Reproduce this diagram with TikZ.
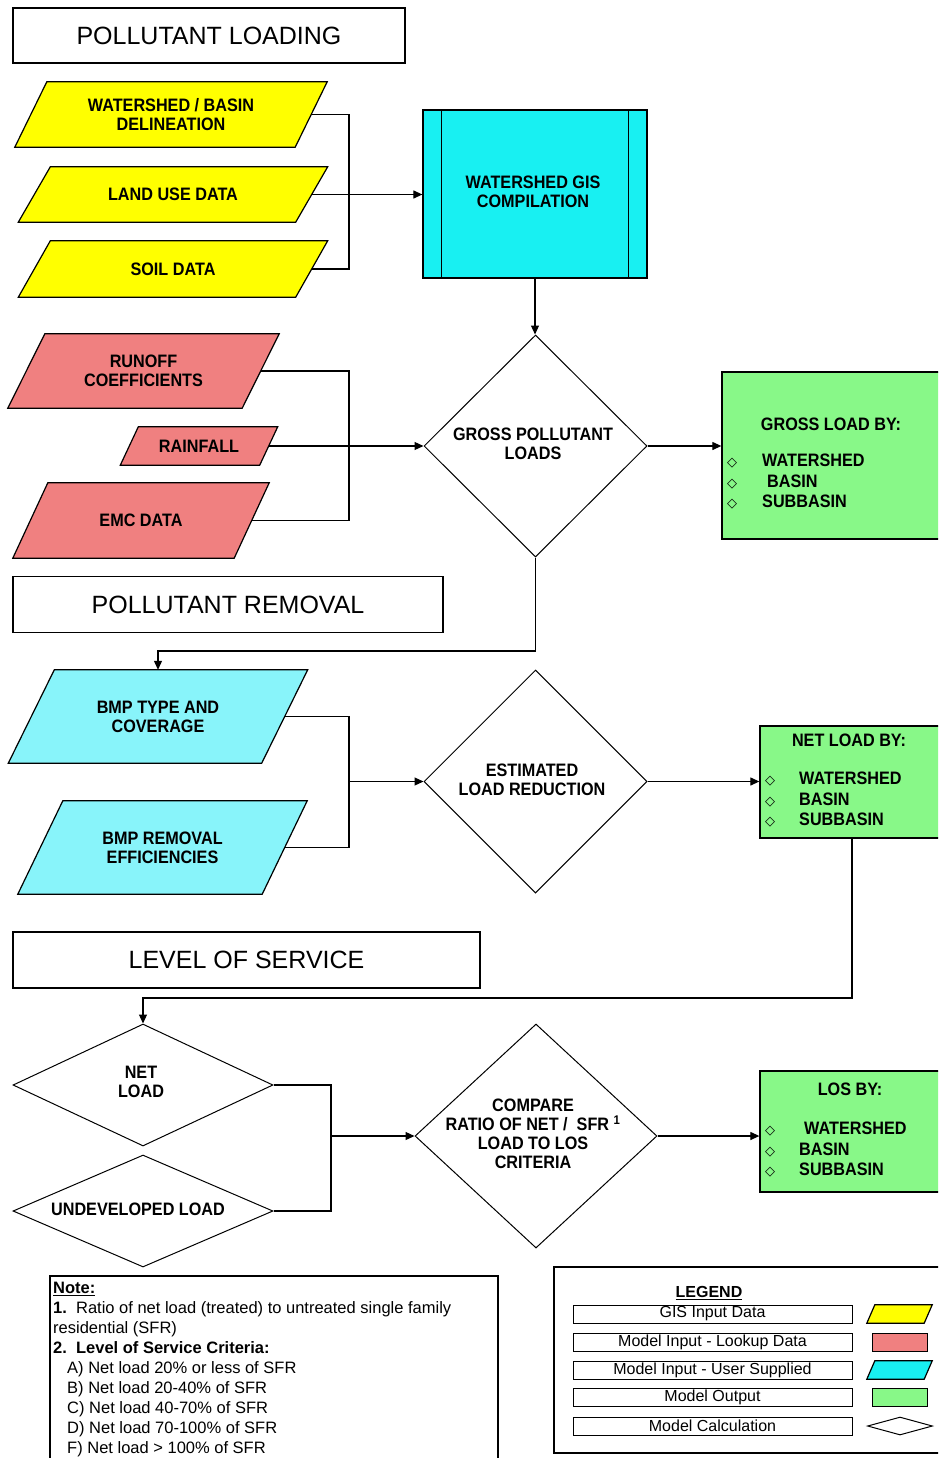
\documentclass[tikz,border=0pt]{standalone}
\usepackage{fontspec}
\setmainfont{Liberation Sans}
\newfontfamily\lblfamily[FakeStretch=0.9]{Liberation Sans}
\newfontfamily\symfamily{DejaVu Sans}
\usetikzlibrary{shapes.geometric,arrows.meta,calc,backgrounds}

\definecolor{gisyellow}{HTML}{FFFF00}
\definecolor{lookupred}{HTML}{F08080}
\definecolor{giscyan}{HTML}{18F0F2}
\definecolor{usercyan}{HTML}{88F4FA}
\definecolor{outgreen}{HTML}{88F888}

% fonts for the different kinds of text
\newcommand\lbl{\lblfamily\bfseries\fontsize{18}{19}\selectfont}
\newcommand\lstf{\lblfamily\bfseries\fontsize{18}{20.5}\selectfont}
\newcommand\hdr{\fontsize{25}{28}\selectfont}
\newcommand\legf{\fontsize{16}{16}\selectfont}
\newcommand\notef{\fontsize{16.5}{20}\selectfont}
\newcommand\bul{{\symfamily\bfseries\fontsize{13}{13}\selectfont ◇}}
\newcommand\blt[2]{\makebox[#1pt][l]{\bul}#2}

\tikzset{
  line/.style={line width=1.2pt, draw=black},
  flow/.style={line, -{Triangle[length=9pt,width=8pt]}},
  pgtext/.style={rectangle, inner sep=0pt, align=center, font=\lbl},
  header/.style={rectangle, draw, line width=1.3pt, font=\hdr, inner sep=0pt},
  calcshape/.style={diamond, draw, line width=1pt, inner sep=0pt},
  outbox/.style={rectangle, draw, line width=1.3pt, fill=outgreen, inner sep=0pt},
  listtext/.style={rectangle, inner sep=0pt, align=left, anchor=west, font=\lstf},
  legrow/.style={rectangle, draw, line width=1pt, inner sep=0pt,
    minimum width=279pt, minimum height=18pt, font=\legf},
}

% parallelogram data box: name, fill, centre, width at mid height, height, slant, text
\newcommand\pgram[7]{%
  \node[pgtext, minimum width=#4pt, minimum height=#5pt] (#1) at (#3) {#7};
  \begin{pgfonlayer}{background}
    \draw[line, fill=#2] ($(#1.north west)+(#6/2,0)$) -- ($(#1.north east)+(#6/2,0)$)
      -- ($(#1.south east)-(#6/2,0)$) -- ($(#1.south west)-(#6/2,0)$) -- cycle;
  \end{pgfonlayer}}

\begin{document}
\begin{tikzpicture}[x=1pt, y=-1pt]
\useasboundingbox (0,0) rectangle (938,1458);
\clip (0,0) rectangle (938,1458);

% ---------- section headers ----------
\node[header, minimum width=392pt, minimum height=55pt] (h1) at (209,35.5) {POLLUTANT LOADING};
\node[header, minimum width=430pt, minimum height=56pt] (h2) at (228,604.5) {POLLUTANT REMOVAL};
\node[header, minimum width=467pt, minimum height=56pt] (h3) at (246.5,960) {LEVEL OF SERVICE};

% ---------- pollutant loading ----------
\pgram{ws}{gisyellow}{171,114.5}{280}{65}{32}{WATERSHED / BASIN\\DELINEATION}
\pgram{lu}{gisyellow}{173,194.5}{277}{55}{32}{LAND USE DATA}
\pgram{soil}{gisyellow}{173,269}{277}{56}{32}{SOIL DATA}

\node[rectangle, draw, line width=1.3pt, fill=giscyan, minimum width=224pt, minimum height=168pt] (gis) at (535,194) {};
\draw[line] ($(gis.north west)+(19,0)$) -- ($(gis.south west)+(19,0)$);
\draw[line] ($(gis.north east)-(19,0)$) -- ($(gis.south east)-(19,0)$);
\node[pgtext] (gis-t) at (533,192) {WATERSHED GIS\\COMPILATION};

\pgram{ro}{lookupred}{143.5,371}{234}{74}{37}{RUNOFF\\COEFFICIENTS}
\pgram{rain}{lookupred}{199,446}{139}{38}{18}{RAINFALL}
\pgram{emc}{lookupred}{141,520.5}{221}{75}{35}{EMC DATA}

\node[calcshape, minimum width=223pt, minimum height=222pt] (gpl) at (535.5,446) {};
\node[pgtext] (gpl-t) at (533,444) {GROSS POLLUTANT\\LOADS};

\node[outbox, minimum width=230pt, minimum height=167pt] (gl) at (837,455.5) {};
\node[pgtext] (gl-title) at (831,424) {GROSS LOAD BY:};
\node[listtext] (gl-list) at (727,482) {\blt{35}{WATERSHED}\\\blt{35}{\hspace{5pt}BASIN}\\\blt{35}{SUBBASIN}};

% ---------- pollutant removal ----------
\pgram{bmpt}{usercyan}{158,716.5}{253}{93}{46}{BMP TYPE AND\\COVERAGE}
\pgram{bmpr}{usercyan}{162.5,847.5}{244}{93}{45}{BMP REMOVAL\\EFFICIENCIES}

\node[calcshape, minimum width=223pt, minimum height=223pt] (elr) at (535.5,781.5) {};
\node[pgtext] (elr-t) at (532,780) {ESTIMATED\\LOAD REDUCTION};

\node[outbox, minimum width=190pt, minimum height=112pt] (nl) at (855,782) {};
\node[pgtext] (nl-title) at (849,740) {NET LOAD BY:};
\node[listtext] (nl-list) at (765,800) {\blt{34}{WATERSHED}\\\blt{34}{BASIN}\\\blt{34}{SUBBASIN}};

% ---------- level of service ----------
\node[calcshape, minimum width=260pt, minimum height=122pt] (netd) at (143,1085) {};
\node[pgtext] (netd-t) at (141,1082) {NET\\LOAD};
\node[calcshape, minimum width=260pt, minimum height=112pt] (und) at (143,1211) {};
\node[pgtext] (und-t) at (138,1209) {UNDEVELOPED LOAD};

\node[calcshape, minimum width=242pt, minimum height=224pt] (cmp) at (536,1136) {};
\node[pgtext] (cmp-t) at (533,1134) {COMPARE\\RATIO OF NET /\ \ SFR \textsuperscript{1}\\LOAD TO LOS\\CRITERIA};

\node[outbox, minimum width=190pt, minimum height=121pt] (los) at (855,1131.5) {};
\node[pgtext] (los-title) at (850,1089) {LOS BY:};
\node[listtext] (los-list) at (765,1150) {\blt{34}{\hspace{5pt}WATERSHED}\\\blt{34}{BASIN}\\\blt{34}{SUBBASIN}};

% ---------- connectors ----------
\coordinate (j1) at (349,194.5);
\draw[line] (ws.east) -| (j1);
\draw[line] (soil.east) -| (j1);
\draw[flow] (lu.east) -- (lu.east -| gis.west);
\draw[flow] (gis.south) -- (gis.south |- gpl.north);

\coordinate (j2) at (349,446);
\draw[line] (ro.east) -| (j2);
\draw[line] (emc.east) -| (j2);
\draw[flow] (rain.east) -- (gpl.west);
\draw[flow] (gpl.east) -- (gpl.east -| gl.west);

\coordinate (k1) at (535.5,651);
\draw[flow] (gpl.south) -- (k1) -| (bmpt.north);

\coordinate (j3) at (349,781.5);
\draw[line] (bmpt.east) -| (j3);
\draw[line] (bmpr.east) -| (j3);
\draw[flow] (j3) -- (elr.west);
\draw[flow] (elr.east) -- (elr.east -| nl.west);

\coordinate (k2) at (852,998);
\draw[flow] (nl.south -| k2) -- (k2) -| (netd.north);

\coordinate (j4) at (331,1136);
\draw[line] (netd.east) -| (j4);
\draw[line] (und.east) -| (j4);
\draw[flow] (j4) -- (cmp.west);
\draw[flow] (cmp.east) -- (cmp.east -| los.west);

% ---------- notes ----------
\node[rectangle, draw, line width=1.2pt, minimum width=448pt, minimum height=200pt] (notebox) at (274,1376) {};
\node[anchor=north west, align=left, inner sep=0pt, font=\notef] (notes) at (53,1282) {%
\underline{\textbf{Note:}}\\
\textbf{1.}\ \ Ratio of net load (treated) to untreated single family\\
residential (SFR)\\
\textbf{2.\ \ Level of Service Criteria:}\\
\hspace*{14pt}A) Net load 20\% or less of SFR\\
\hspace*{14pt}B) Net load 20-40\% of SFR\\
\hspace*{14pt}C) Net load 40-70\% of SFR\\
\hspace*{14pt}D) Net load 70-100\% of SFR\\
\hspace*{14pt}F) Net load > 100\% of SFR};

% ---------- legend ----------
\node[rectangle, draw, line width=1.2pt, minimum width=396pt, minimum height=186pt] (legbox) at (752,1360) {};
\node[font=\legf\bfseries, inner sep=0pt] (legtitle) at (709,1293) {\underline{LEGEND}};
\node[legrow] (lr1) at (712.5,1314) {GIS Input Data};
\node[legrow] (lr2) at (712.5,1342) {Model Input - Lookup Data};
\node[legrow] (lr3) at (712.5,1370) {Model Input - User Supplied};
\node[legrow] (lr4) at (712.5,1397.5) {Model Output};
\node[legrow] (lr5) at (712.5,1426) {Model Calculation};

\pgram{sw1}{gisyellow}{899.5,1314}{57}{18}{8}{}
\node[rectangle, draw, line width=1pt, fill=lookupred, minimum width=55pt, minimum height=18pt, inner sep=0pt] (sw2) at (899.5,1342) {};
\pgram{sw3}{giscyan}{899.5,1370}{57}{18}{8}{}
\node[rectangle, draw, line width=1pt, fill=outgreen, minimum width=55pt, minimum height=18pt, inner sep=0pt] (sw4) at (899.5,1397.5) {};
\node[calcshape, minimum width=65pt, minimum height=18pt] (sw5) at (900,1426) {};
\end{tikzpicture}
\end{document}
